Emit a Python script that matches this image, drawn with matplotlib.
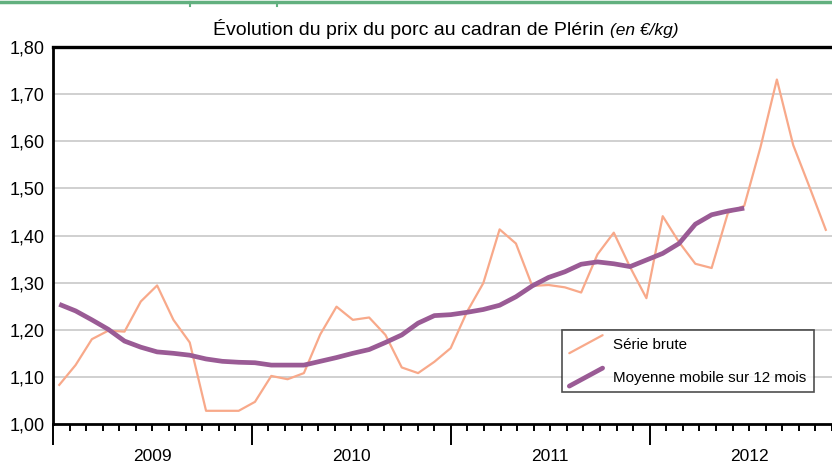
import matplotlib
matplotlib.use("Agg")
import matplotlib.pyplot as plt
from matplotlib.lines import Line2D
from matplotlib.legend_handler import HandlerLine2D

plt.rcParams['font.family'] = ['Liberation Sans', 'DejaVu Sans']

# prix mensuels, janvier 2009 -> decembre 2012
serie_brute = [1.083, 1.125, 1.180, 1.198, 1.196, 1.260, 1.294, 1.221, 1.173, 1.028, 1.028, 1.028,
               1.047, 1.102, 1.095, 1.108, 1.190, 1.249, 1.221, 1.226, 1.189, 1.120, 1.108, 1.132,
               1.161, 1.238, 1.299, 1.413, 1.383, 1.293, 1.295, 1.290, 1.279, 1.360, 1.406, 1.333,
               1.267, 1.441, 1.386, 1.340, 1.331, 1.448, 1.463, 1.588, 1.731, 1.592, 1.503, 1.412]
moyenne_mobile = [1.254, 1.240, 1.221, 1.201, 1.176, 1.163, 1.153, 1.150, 1.146, 1.138, 1.133, 1.131,
                  1.130, 1.125, 1.125, 1.125, 1.133, 1.141, 1.150, 1.158, 1.173, 1.189, 1.214, 1.230,
                  1.232, 1.237, 1.243, 1.252, 1.270, 1.293, 1.311, 1.323, 1.339, 1.344, 1.340, 1.334,
                  1.348, 1.362, 1.383, 1.424, 1.444, 1.452, 1.458]
annees = ['2009', '2010', '2011', '2012']
y_ticks = [1.0, 1.1, 1.2, 1.3, 1.4, 1.5, 1.6, 1.7, 1.8]

orange = '#F8A98A'
violet = '#9A5B95'
vert = '#62b07f'


class HandlerDiag(HandlerLine2D):
    # trait en diagonale dans la legende
    def create_artists(self, legend, orig_handle, xdescent, ydescent, width, height, fontsize, trans):
        line = Line2D([-xdescent, width - xdescent],
                      [-ydescent - 0.4 * height, 1.3 * height - ydescent])
        self.update_prop(line, orig_handle, legend)
        line.set_solid_capstyle('round')
        line.set_transform(trans)
        return [line]


fig = plt.figure(figsize=(8.32, 4.63), dpi=100)
ax = fig.add_axes([53 / 832, 1 - 424 / 463, 1 - 53 / 832, 377 / 463])

x_brute = list(range(len(serie_brute)))
x_moy = list(range(len(moyenne_mobile)))
l1, = ax.plot(x_brute, serie_brute, color=orange, lw=1.6, label='Série brute', zorder=3)
l2, = ax.plot(x_moy, moyenne_mobile, color=violet, lw=3.4, label='Moyenne mobile sur 12 mois',
              zorder=4, solid_capstyle='butt')

x0 = -0.384
mois = (200 / 12) / 16.4
ax.set_xlim(x0, 47.12)
ax.set_ylim(1.0, 1.8)

ax.set_yticks(y_ticks)
ax.set_yticklabels([f'{v:.2f}'.replace('.', ',') for v in y_ticks], fontsize=13)
for v in y_ticks[1:-1]:
    ax.axhline(v, color='#c8c8c8', lw=1.2, zorder=1)

majeurs = [x0 + 12 * i * mois for i in range(4)]
mineurs = [x0 + m * mois for m in range(48) if m % 12 != 0]
ax.set_xticks(majeurs)
ax.set_xticks(mineurs, minor=True)
ax.set_xticklabels([])
ax.tick_params(axis='x', which='major', length=15, width=1.4, direction='out')
ax.tick_params(axis='x', which='minor', length=5, width=1.4, direction='out')
ax.tick_params(axis='y', length=0, pad=6)

for i, a in enumerate(annees):
    ax.text(majeurs[i] + 6 * mois, -0.085, a, transform=ax.get_xaxis_transform(),
            ha='center', va='center', fontsize=12.5)

ax.spines['right'].set_visible(False)
ax.spines['top'].set_linewidth(2.4)
ax.spines['left'].set_linewidth(2.0)
ax.spines['bottom'].set_linewidth(2.0)

fig.text(213 / 832, 1 - 29 / 463, 'Évolution du prix du porc au cadran de Plérin', fontsize=14,
         ha='left', va='center')
fig.text(610 / 832, 1 - 30 / 463, '(en €/kg)', fontsize=12.5, style='italic', ha='left', va='center')

leg = ax.legend(handles=[l1, l2], loc='center', bbox_to_anchor=(0.815, 0.166),
                fontsize=10.9, frameon=True, fancybox=False, handlelength=2.2,
                handletextpad=0.7, labelspacing=1.25, borderpad=0.5,
                handler_map={Line2D: HandlerDiag()})
leg.get_frame().set_edgecolor('#222222')
leg.get_frame().set_linewidth(1.2)

# filet vert du haut de page
fig.add_artist(Line2D([0, 1], [1 - 2 / 463, 1 - 2 / 463], transform=fig.transFigure,
                      color=vert, lw=2.5))
for xp in [190, 277]:
    fig.add_artist(Line2D([xp / 832, xp / 832], [1 - 2 / 463, 1 - 6 / 463],
                          transform=fig.transFigure, color=vert, lw=1.5))

fig.savefig('out.png', dpi=100)
